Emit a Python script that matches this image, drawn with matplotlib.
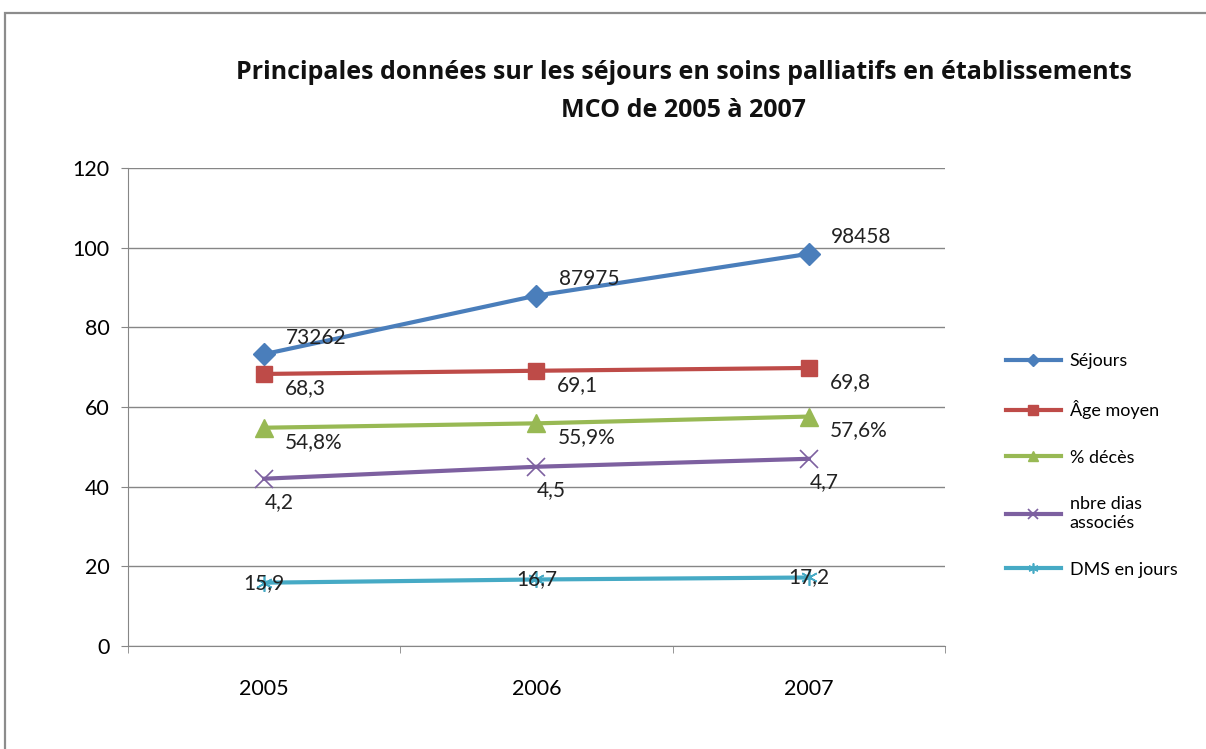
import matplotlib
matplotlib.use("Agg")
import matplotlib.pyplot as plt
from matplotlib.patches import Rectangle

# ---- data ----
years = ["2005", "2006", "2007"]
sejours = [73.262, 87.975, 98.458]          # en milliers
age_moyen = [68.3, 69.1, 69.8]
pct_deces = [54.8, 55.9, 57.6]
nbre_dias = [42, 45, 47]                    # x10
dms_jours = [15.9, 16.7, 17.2]

lbl_sejours = ["73262", "87975", "98458"]
lbl_age = ["68,3", "69,1", "69,8"]
lbl_deces = ["54,8%", "55,9%", "57,6%"]
lbl_dias = ["4,2", "4,5", "4,7"]
lbl_dms = ["15,9", "16,7", "17,2"]

plt.rcParams['font.family'] = ['Lato', 'DejaVu Sans']

fig = plt.figure(figsize=(12.06, 7.49), dpi=100)
ax = fig.add_axes([0.1061, 0.1375, 0.6775, 0.6382])

# bordure du graphique
fig.patches.append(Rectangle((5 / 1206, -0.1), 1.2, 1.1 - 13 / 749,
                             transform=fig.transFigure, fill=False,
                             edgecolor='#8c8c8c', lw=1.6))

x = [0.5, 1.5, 2.5]
series = [
    (sejours, lbl_sejours, "Séjours", '#4A7EBB', 'D', 11, (16, 12), 'left'),
    (age_moyen, lbl_age, "Âge moyen", '#BE4B48', 's', 11, (15, -10), 'left'),
    (pct_deces, lbl_deces, "% décès", '#98B954', '^', 13, (15, -10), 'left'),
    (nbre_dias, lbl_dias, "nbre dias\nassociés", '#7D60A0', 'x', 13, (11, -17), 'center'),
    (dms_jours, lbl_dms, "DMS en jours", '#46AAC5', (6, 2, 0), 12, (0, 0), 'center'),
]

handles = []
for vals, lbls, name, col, mk, ms, off, ha in series:
    mew = 1.2 if mk in ('x',) or isinstance(mk, tuple) else 1
    ln, = ax.plot(x, vals, color=col, lw=3, marker=mk, markersize=ms,
                  markeredgewidth=mew, label=name, zorder=3)
    handles.append(ln)
    for xi, v, t in zip(x, vals, lbls):
        ax.annotate(t, (xi, v), xytext=off, textcoords='offset points',
                    ha=ha, va='center', fontsize=15, color='#222222', zorder=4)

ax.set_xlim(0, 3)
ax.set_ylim(0, 120)
ax.set_yticks(range(0, 121, 20))
ax.yaxis.grid(True, color='#868686', lw=1)
ax.set_axisbelow(True)
ax.set_xticks(x)
ax.set_xticklabels(years)
ax.set_xticks([0, 1, 2, 3], minor=True)
ax.tick_params(axis='x', which='major', length=0, pad=24, labelsize=15.5)
ax.tick_params(axis='x', which='minor', length=5, color='#868686')
ax.tick_params(axis='y', length=5, color='#868686', pad=8, labelsize=15.5)
for s in ['top', 'right']:
    ax.spines[s].set_visible(False)
for s in ['left', 'bottom']:
    ax.spines[s].set_color('#868686')

title_font = ['Open Sans', 'DejaVu Sans']
fig.text(0.567, 0.903, "Principales données sur les séjours en soins palliatifs en établissements",
         ha='center', va='center', fontsize=18, fontweight='bold', color='#111111',
         family=title_font)
fig.text(0.567, 0.853, "MCO de 2005 à 2007",
         ha='center', va='center', fontsize=18, fontweight='bold', color='#111111',
         family=title_font)

leg = ax.legend(handles=handles, loc='upper left', bbox_to_anchor=(0.821, 0.55),
                bbox_transform=fig.transFigure, frameon=False, fontsize=13,
                handlelength=3.0, handletextpad=0.5, labelspacing=1.7,
                markerscale=0.6)

fig.savefig("out.png", dpi=100)
